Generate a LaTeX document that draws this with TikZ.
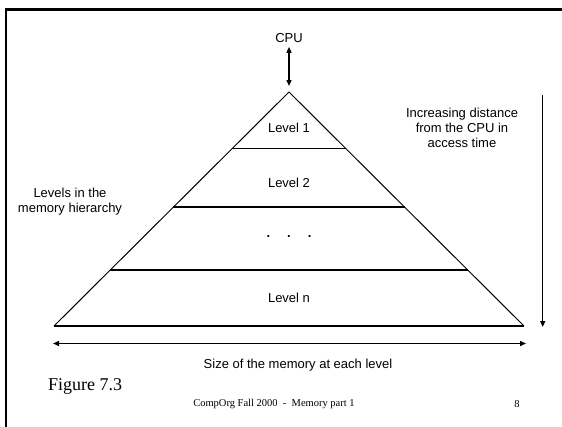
\documentclass[tikz,border=0pt]{standalone}
\usepackage{fontspec}
\setmainfont{Liberation Sans}
\newfontfamily\timesfont{Liberation Serif}
\usetikzlibrary{arrows.meta,calc}

\tikzset{
  label text/.style={font=\fontsize{13}{15}\selectfont, align=center, inner sep=1pt},
  level line/.style={line width=1.6pt},
  side line/.style={line width=1pt},
  tip arrow/.style={line width=1.4pt, -{Triangle[length=6pt,width=5pt]}},
}

\begin{document}
\begin{tikzpicture}[x=1pt,y=-1pt]
\useasboundingbox (0,0) rectangle (562,426);

% Slide frame
\draw[line width=2.4pt] (6,440) -- (6,9.3) -- (580,9.3);

% Pyramid
\coordinate (apex) at (289,92);
\coordinate (baseL) at (54,326);
\coordinate (baseR) at (524,326);
\draw[side line] (baseL) -- (apex) -- (baseR);
\draw[level line] (baseL) -- (baseR);

% Level dividers
\foreach \t [count=\i] in {0.2406,0.4915,0.7607}{
  \draw[level line] ($(apex)!\t!(baseL)$) -- ($(apex)!\t!(baseR)$);
}

% Level labels
\node[label text] (lvl1) at (289,128) {Level 1};
\node[label text] (lvl2) at (289,183) {Level 2};
\node[label text] (dots) at (289,237) {\textbf{.}\hspace{17pt}\textbf{.}\hspace{17pt}\textbf{.}};
\node[label text] (lvln) at (289,298) {Level n};

% CPU
\node[label text] (cpu) at (289,38) {CPU};
\draw[line width=1.4pt, {Triangle[length=6pt,width=5pt]}-{Triangle[length=6pt,width=5pt]}, shorten >=6pt, shorten <=3pt] (cpu) -- (apex);

% Distance arrow
\coordinate (distTop) at (542.7,95);
\coordinate (distBot) at (542.7,327);
\draw[tip arrow] (distTop) -- (distBot);
\node[label text] (dist) at (462,128) {Increasing distance\\from the CPU in\\access time};

% Size arrow
\coordinate (sizeL) at (53,343.5);
\coordinate (sizeR) at (526,343.5);
\draw[line width=1.4pt, {Triangle[length=6pt,width=5pt]}-{Triangle[length=6pt,width=5pt]}] (sizeL) -- (sizeR);
\node[label text] (size) at (298,365) {Size of the memory at each level};

% Side label
\node[label text] (levels) at (70,202) {Levels in the\\memory hierarchy};

% Footer
\node[font=\timesfont\fontsize{18}{20}\selectfont, anchor=west, inner sep=0pt] (fig) at (48,386) {Figure 7.3};
\node[font=\timesfont\fontsize{10.5}{12}\selectfont, inner sep=0pt] (foot) at (274,404) {CompOrg Fall 2000~~-~~Memory part 1};
\node[font=\timesfont\fontsize{10.5}{12}\selectfont, inner sep=0pt] (page) at (517,404) {8};

\end{tikzpicture}
\end{document}
